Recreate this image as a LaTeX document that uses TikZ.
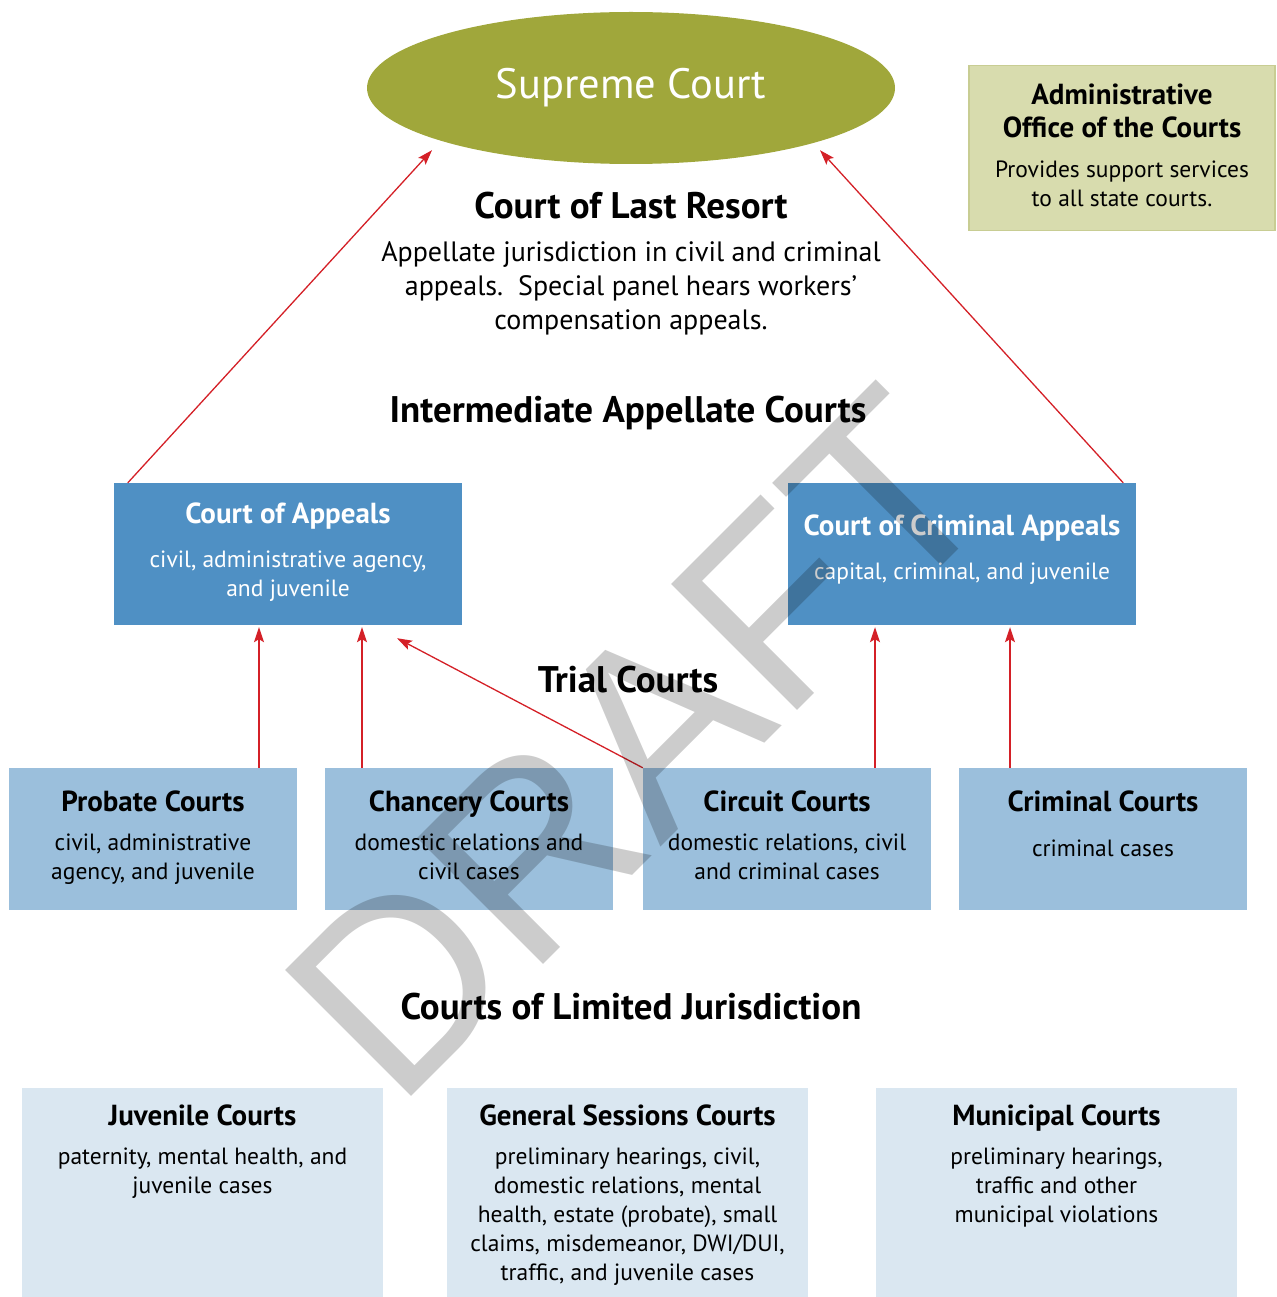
\documentclass[tikz,border=0pt]{standalone}
\usepackage{fontspec}
\setmainfont{PT Sans}
\newfontfamily\draftfont{Liberation Sans}
\usetikzlibrary{shapes.geometric,arrows.meta,positioning}
\definecolor{supremegreen}{HTML}{A0A73B}
\definecolor{adminfill}{HTML}{D8DCAE}
\definecolor{adminline}{HTML}{C8CD93}
\definecolor{appealblue}{HTML}{4F90C4}
\definecolor{trialblue}{HTML}{9BBFDC}
\definecolor{limitblue}{HTML}{DAE7F1}
\definecolor{arrowred}{HTML}{D42027}
\newcommand{\tiertitle}{\fontsize{37}{40}\selectfont\bfseries}
\newcommand{\boxtitle}{\fontsize{29}{33}\selectfont\bfseries}
\newcommand{\boxbody}{\fontsize{23.5}{29}\selectfont\mdseries}
\tikzset{
  tier/.style={font=\tiertitle, inner sep=0pt},
  appealbox/.style={fill=appealblue, minimum width=348pt, minimum height=142pt, inner sep=0pt},
  trialbox/.style={fill=trialblue, minimum width=288pt, minimum height=142pt, inner sep=0pt},
  limitbox/.style={fill=limitblue, minimum width=361pt, minimum height=209pt, inner sep=0pt},
  caption/.style={font=\boxbody, align=center, inner sep=0pt},
  uparrow/.style={draw=arrowred, line width=1.3pt, -{Stealth[length=15pt,width=10pt,inset=3pt]}},
  watermark/.style={font=\draftfont\fontsize{259}{259}\selectfont, text=black, text opacity=0.2, inner sep=0pt}
}
\begin{document}
\begin{tikzpicture}[x=1pt,y=-1pt]
\useasboundingbox (0,0) rectangle (1276,1297);
\node [ellipse, fill=supremegreen, text=white, minimum width=528pt, minimum height=152pt, inner sep=0pt,
  font=\fontsize{42.5}{44}\selectfont] (supreme) at (631,88) {Supreme Court};
\node [fill=adminfill, draw=adminline, line width=1.5pt, minimum width=306pt, minimum height=165pt] (admin) at (1122,148) {};
\node [caption, below=19pt of admin.north] (admin-text)
  {\boxtitle Administrative\\[4pt]\boxtitle Office of the Courts\\[11pt]\boxbody Provides support services\\to all state courts.};
\node [tier] (lastresort) at (631,206) {Court of Last Resort};
\node [align=center, inner sep=0pt, font=\fontsize{28}{34}\selectfont] (lastresort-text) at (631,288)
  {Appellate jurisdiction in civil and criminal\\appeals.\ \ Special panel hears workers’\\compensation appeals.};
\node [tier] (intermediate) at (628,413) {Intermediate Appellate Courts};
\node [appealbox] (appeals) at (288,554) {};
\node [caption, text=white, below=20pt of appeals.north] (appeals-text)
  {\boxtitle Court of Appeals\\[15pt]\boxbody civil, administrative agency,\\and juvenile};
\node [appealbox] (cca) at (962,554) {};
\node [caption, text=white, below=32pt of cca.north] (cca-text)
  {\boxtitle Court of Criminal Appeals\\[15pt]\boxbody capital, criminal, and juvenile};
\node [tier] (trial) at (628,680) {Trial Courts};
\node [trialbox] (probate) at (153,839) {};
\node [trialbox] (chancery) at (469,839) {};
\node [trialbox] (circuit) at (787,839) {};
\node [trialbox] (criminal) at (1103,839) {};
\node [caption, below=23pt of probate.north] (probate-text)
  {\boxtitle Probate Courts\\[10pt]\boxbody civil, administrative\\agency, and juvenile};
\node [caption, below=23pt of chancery.north] (chancery-text)
  {\boxtitle Chancery Courts\\[10pt]\boxbody domestic relations and\\civil cases};
\node [caption, below=23pt of circuit.north] (circuit-text)
  {\boxtitle Circuit Courts\\[10pt]\boxbody domestic relations, civil\\and criminal cases};
\node [caption, below=23pt of criminal.north] (criminal-text)
  {\boxtitle Criminal Courts\\[16pt]\boxbody criminal cases};
\node [tier] (limited) at (631,1007) {Courts of Limited Jurisdiction};
\node [limitbox] (juvenile) at (202.5,1192.5) {};
\node [limitbox] (sessions) at (627.5,1192.5) {};
\node [limitbox] (municipal) at (1056.5,1192.5) {};
\node [caption, below=17pt of juvenile.north] (juvenile-text)
  {\boxtitle Juvenile Courts\\[10pt]\boxbody paternity, mental health, and\\juvenile cases};
\node [caption, below=17pt of sessions.north] (sessions-text)
  {\boxtitle General Sessions Courts\\[10pt]\boxbody preliminary hearings, civil,\\domestic relations, mental\\health, estate (probate), small\\claims, misdemeanor, DWI/DUI,\\traffic, and juvenile cases};
\node [caption, below=17pt of municipal.north] (municipal-text)
  {\boxtitle Municipal Courts\\[10pt]\boxbody preliminary hearings,\\traffic and other\\municipal violations};
\draw [uparrow] ([xshift=14pt]appeals.north west) -- ([xshift=-199pt,yshift=14pt]supreme.south);
\draw [uparrow] ([xshift=-13pt]cca.north east) -- ([xshift=189pt,yshift=14pt]supreme.south);
\draw [uparrow] ([xshift=106pt]probate.north) -- ([xshift=-29pt,yshift=-2pt]appeals.south);
\draw [uparrow] ([xshift=-107pt]chancery.north) -- ([xshift=74pt,yshift=-2pt]appeals.south);
\draw [uparrow] (circuit.north west) -- ([xshift=109pt,yshift=-13pt]appeals.south);
\draw [uparrow] ([xshift=88pt]circuit.north) -- ([xshift=-87pt,yshift=-2pt]cca.south);
\draw [uparrow] ([xshift=-93pt]criminal.north) -- ([xshift=48pt,yshift=-2pt]cca.south);
\node [watermark, rotate=45, anchor=base west] (draft) at (396,1112) {DRAFT};
\end{tikzpicture}
\end{document}
